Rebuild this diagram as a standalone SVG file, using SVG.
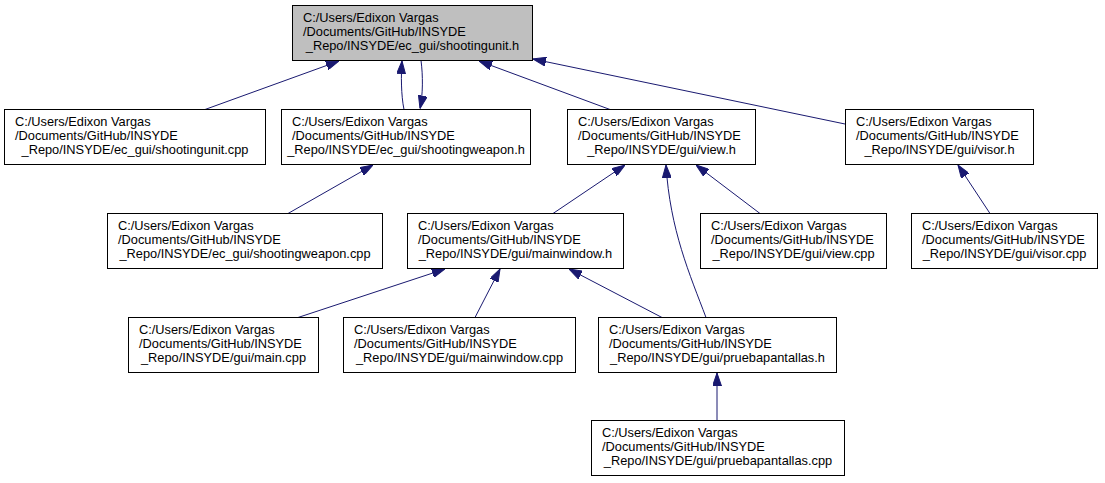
<svg xmlns="http://www.w3.org/2000/svg" width="1105" height="483" viewBox="0 0 1105 483">
<style>
.box{fill:#ffffff;stroke:#000000;stroke-width:1}
.root{fill:#bfbfbf;stroke:#000000;stroke-width:1}
text{font-family:"Liberation Sans",Arial,sans-serif;font-size:12.8px;fill:#000000}
.c{text-anchor:middle}
.e{fill:none;stroke:#191970;stroke-width:1;marker-end:url(#ah)}
</style>
<defs>
<marker id="ah" viewBox="0 0 13 9" refX="13" refY="4.5" markerWidth="13" markerHeight="9" markerUnits="userSpaceOnUse" orient="auto">
<path d="M0,0 L13,4.5 L0,9 z" fill="#191970" stroke="#191970" stroke-width="1"/>
</marker>
</defs>
<rect width="1105" height="483" fill="#ffffff"/>
<g id="connectors">
<path class="e" d="M205,109.5 L339,61"/>
<path class="e" d="M404,109.5 C401,95 401,75 402,61"/>
<path class="e" d="M421,60.5 C423,75 423,95 420,108.5"/>
<path class="e" d="M610,109.5 L479,61"/>
<path class="e" d="M845,124 L533,59"/>
<path class="e" d="M288,213.5 L373,165"/>
<path class="e" d="M553,213.5 L625,165"/>
<path class="e" d="M706,317.5 C690,275 670,230 666,165"/>
<path class="e" d="M760,213.5 L696,165"/>
<path class="e" d="M990,213.5 L958,165"/>
<path class="e" d="M298,317.5 L445,269"/>
<path class="e" d="M475,317.5 L500,269"/>
<path class="e" d="M662,317.5 L569,269"/>
<path class="e" d="M717,420.5 L717,373"/>
</g>
<g id="n0">
<rect class="root" x="292.5" y="5.5" width="240" height="55"/>
<text x="303" y="22">C:/Users/Edixon Vargas</text>
<text x="303" y="36">/Documents/GitHub/INSYDE</text>
<text class="c" x="412.5" y="50">_Repo/INSYDE/ec_gui/shootingunit.h</text>
</g>
<g id="n1">
<rect class="box" x="4.5" y="109.5" width="261" height="55"/>
<text x="15" y="126">C:/Users/Edixon Vargas</text>
<text x="15" y="140">/Documents/GitHub/INSYDE</text>
<text class="c" x="135" y="154">_Repo/INSYDE/ec_gui/shootingunit.cpp</text>
</g>
<g id="n2">
<rect class="box" x="281.5" y="109.5" width="249" height="55"/>
<text x="292" y="126">C:/Users/Edixon Vargas</text>
<text x="292" y="140">/Documents/GitHub/INSYDE</text>
<text class="c" x="406" y="154">_Repo/INSYDE/ec_gui/shootingweapon.h</text>
</g>
<g id="n3">
<rect class="box" x="567.5" y="109.5" width="188" height="55"/>
<text x="578" y="126">C:/Users/Edixon Vargas</text>
<text x="578" y="140">/Documents/GitHub/INSYDE</text>
<text class="c" x="661.5" y="154">_Repo/INSYDE/gui/view.h</text>
</g>
<g id="n4">
<rect class="box" x="845.5" y="109.5" width="188" height="55"/>
<text x="856" y="126">C:/Users/Edixon Vargas</text>
<text x="856" y="140">/Documents/GitHub/INSYDE</text>
<text class="c" x="939.5" y="154">_Repo/INSYDE/gui/visor.h</text>
</g>
<g id="n5">
<rect class="box" x="107.5" y="213.5" width="275" height="55"/>
<text x="118" y="230">C:/Users/Edixon Vargas</text>
<text x="118" y="244">/Documents/GitHub/INSYDE</text>
<text class="c" x="245" y="258">_Repo/INSYDE/ec_gui/shootingweapon.cpp</text>
</g>
<g id="n6">
<rect class="box" x="407.5" y="213.5" width="216" height="55"/>
<text x="418" y="230">C:/Users/Edixon Vargas</text>
<text x="418" y="244">/Documents/GitHub/INSYDE</text>
<text class="c" x="515.5" y="258">_Repo/INSYDE/gui/mainwindow.h</text>
</g>
<g id="n7">
<rect class="box" x="700.5" y="213.5" width="186" height="55"/>
<text x="711" y="230">C:/Users/Edixon Vargas</text>
<text x="711" y="244">/Documents/GitHub/INSYDE</text>
<text class="c" x="793.5" y="258">_Repo/INSYDE/gui/view.cpp</text>
</g>
<g id="n8">
<rect class="box" x="911.5" y="213.5" width="186" height="55"/>
<text x="922" y="230">C:/Users/Edixon Vargas</text>
<text x="922" y="244">/Documents/GitHub/INSYDE</text>
<text class="c" x="1004.5" y="258">_Repo/INSYDE/gui/visor.cpp</text>
</g>
<g id="n9">
<rect class="box" x="128.5" y="317.5" width="190" height="55"/>
<text x="139" y="334">C:/Users/Edixon Vargas</text>
<text x="139" y="348">/Documents/GitHub/INSYDE</text>
<text class="c" x="223.5" y="362">_Repo/INSYDE/gui/main.cpp</text>
</g>
<g id="n10">
<rect class="box" x="343.5" y="317.5" width="232" height="55"/>
<text x="354" y="334">C:/Users/Edixon Vargas</text>
<text x="354" y="348">/Documents/GitHub/INSYDE</text>
<text class="c" x="459.5" y="362">_Repo/INSYDE/gui/mainwindow.cpp</text>
</g>
<g id="n11">
<rect class="box" x="598.5" y="317.5" width="238" height="55"/>
<text x="609" y="334">C:/Users/Edixon Vargas</text>
<text x="609" y="348">/Documents/GitHub/INSYDE</text>
<text class="c" x="717.5" y="362">_Repo/INSYDE/gui/pruebapantallas.h</text>
</g>
<g id="n12">
<rect class="box" x="591.5" y="420.5" width="253" height="55"/>
<text x="602" y="437">C:/Users/Edixon Vargas</text>
<text x="602" y="451">/Documents/GitHub/INSYDE</text>
<text class="c" x="718" y="465">_Repo/INSYDE/gui/pruebapantallas.cpp</text>
</g>
</svg>
